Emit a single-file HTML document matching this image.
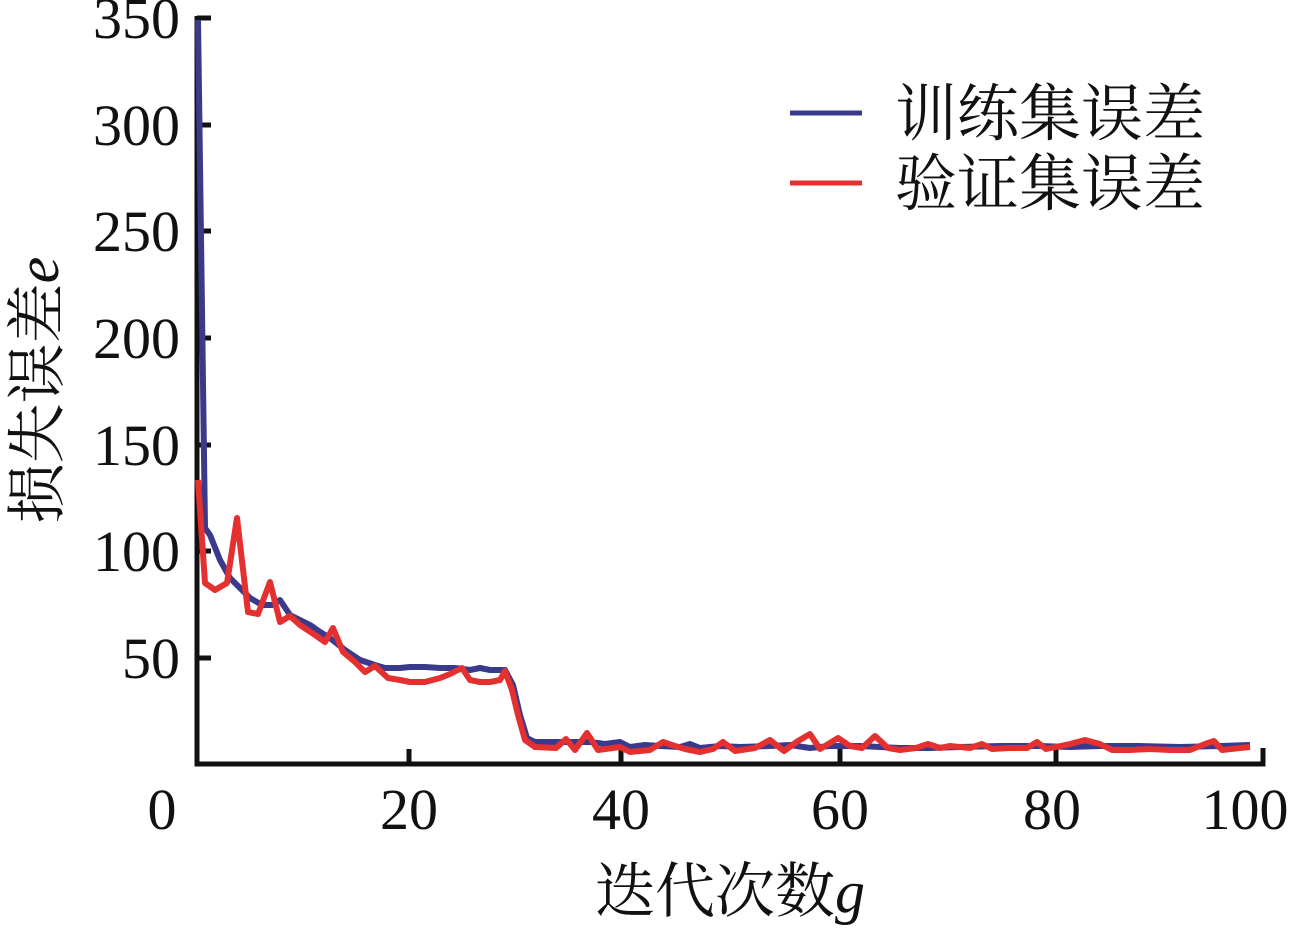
<!DOCTYPE html>
<html><head><meta charset="utf-8"><style>
html,body{margin:0;padding:0;background:#fff;}
svg text{font-family:"Liberation Serif","Noto Serif CJK SC",serif;fill:#111;}
</style></head><body>
<svg width="1295" height="926" viewBox="0 0 1295 926" xmlns="http://www.w3.org/2000/svg">
<g stroke="#111" stroke-width="5" fill="none">
<path d="M197,16 V764 H1263 V748"/>
<path d="M197,18 H211 M197,125 H211 M197,231 H211 M197,338 H211 M197,445 H211 M197,551 H211 M197,658 H211"/>
<path d="M409,764 V749 M621,764 V749 M840,764 V749 M1056,764 V749"/>
</g>
<g font-size="58" text-anchor="end">
<text x="180" y="38">350</text><text x="180" y="145">300</text><text x="180" y="251">250</text>
<text x="180" y="358">200</text><text x="180" y="465">150</text><text x="180" y="571">100</text>
<text x="180" y="678">50</text>
</g>
<g font-size="58" text-anchor="middle">
<text x="162" y="829">0</text><text x="409" y="829">20</text><text x="621" y="829">40</text>
<text x="840" y="829">60</text><text x="1052" y="829">80</text><text x="1245" y="829">100</text>
</g>
<text x="730" y="912" font-size="60" text-anchor="middle">迭代次数<tspan font-style="italic">g</tspan></text>
<text transform="translate(58,390) rotate(-90)" font-size="60" text-anchor="middle">损失误差<tspan font-style="italic">e</tspan></text>
<polyline fill="none" stroke="#3a3a8c" stroke-width="6" stroke-linejoin="round" points="198,20 205,528 210,535 220,560 230,578 240,588 250,598 262,605 272,605 280,600 290,615 300,620 310,625 320,632 330,638 345,650 360,660 375,665 385,668 400,668 410,667 425,667 440,668 455,668 470,670 480,668 490,670 505,670 513,685 520,715 527,738 535,742 555,742 570,742 590,742 605,744 620,742 630,747 645,745 660,746 680,747 690,744 700,748 720,746 740,747 770,746 790,745 810,748 830,746 860,746 880,747 900,748 930,748 960,747 1000,746 1040,746 1070,747 1100,746 1140,746 1180,747 1220,746 1250,745"/>
<polyline fill="none" stroke="#e53030" stroke-width="6" stroke-linejoin="round" points="198,480 205,583 215,590 227,583 237,518 248,612 258,614 270,582 280,622 290,616 300,625 315,635 325,642 333,628 343,652 355,662 365,672 375,666 388,678 400,680 410,682 425,682 440,678 450,674 462,668 470,680 480,682 490,682 500,680 505,671 512,690 518,715 525,740 535,747 556,748 566,739 575,750 587,733 598,750 620,747 630,752 650,750 663,742 675,746 685,749 700,752 713,749 723,742 735,751 755,748 770,740 784,751 798,741 810,734 820,749 838,738 850,746 862,748 875,736 888,748 900,750 916,748 928,744 940,748 950,746 970,748 982,744 992,749 1010,748 1027,748 1037,742 1046,749 1070,744 1085,740 1100,744 1112,750 1130,750 1150,749 1170,750 1190,750 1205,744 1214,741 1222,750 1240,748 1250,747"/>
<line x1="790" y1="113" x2="862" y2="113" stroke="#3a3a8c" stroke-width="5"/>
<line x1="790" y1="183" x2="862" y2="183" stroke="#e53030" stroke-width="5"/>
<text x="895" y="135" font-size="62">训练集误差</text>
<text x="895" y="205" font-size="62">验证集误差</text>
</svg>
</body></html>
